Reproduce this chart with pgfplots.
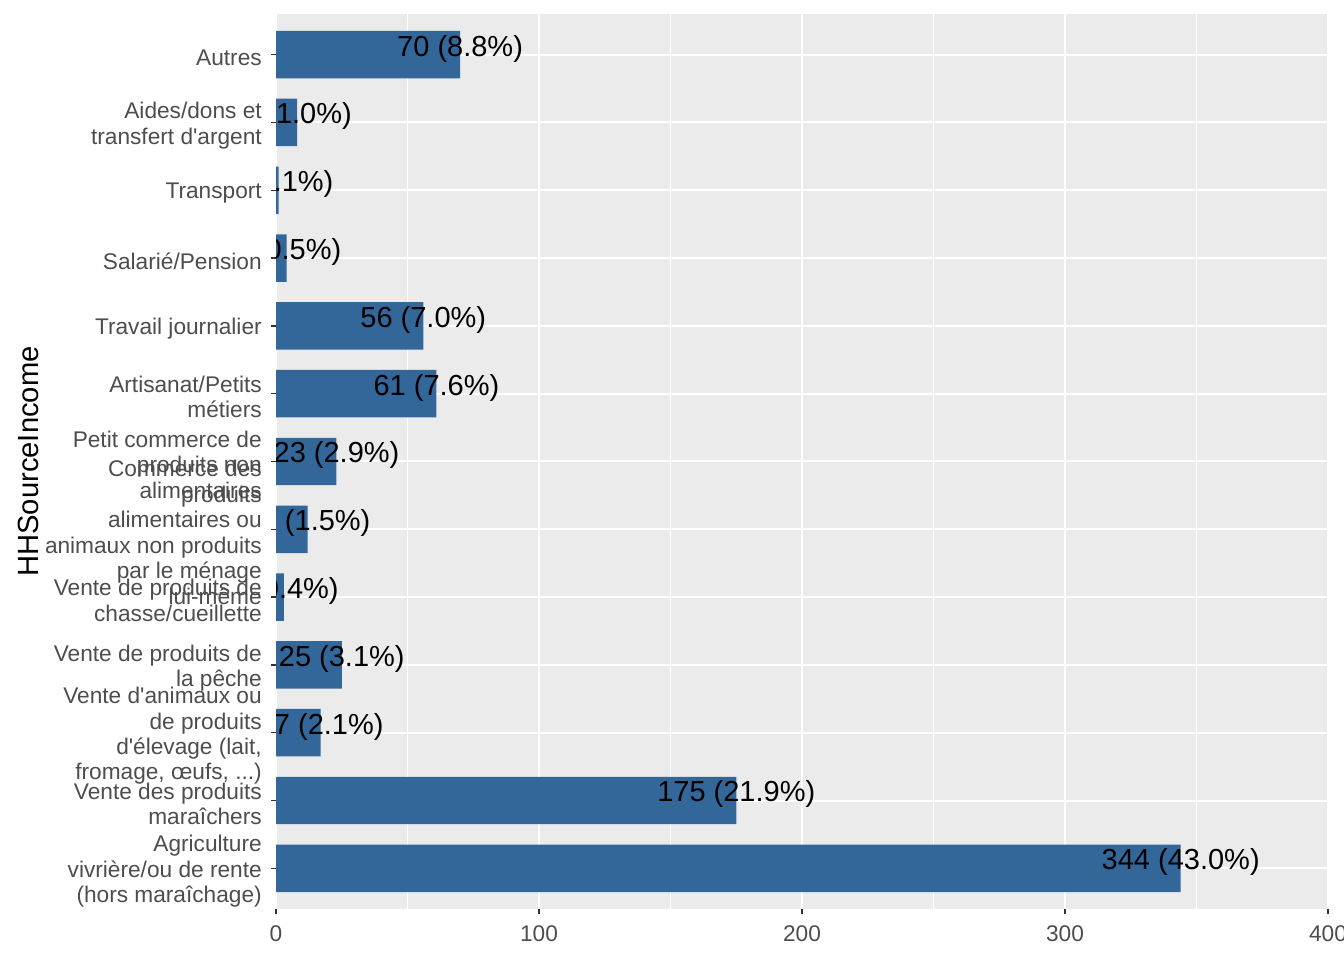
\documentclass[border=0pt]{standalone}
\usepackage{fontspec}
\setmainfont{Liberation Sans}
\usepackage{pgfplots}
\pgfplotsset{compat=1.18}
\definecolor{barblue}{HTML}{336699}
\definecolor{panelbg}{HTML}{EBEBEB}
\definecolor{ticklab}{HTML}{4D4D4D}
\definecolor{tickcol}{HTML}{333333}
\newcommand{\threedots}{.\kern0pt.\kern0pt.}
\begin{document}
\begin{tikzpicture}
\useasboundingbox (0,0) rectangle (1008pt,720pt);
\begin{axis}[
  at={(207pt,38.25pt)}, anchor=south west,
  scale only axis, width=789pt, height=671.25pt,
  xmin=0, xmax=400, ymin=0.4, ymax=13.6,
  xbar, bar width=0.7, bar shift=0pt,
  clip marker paths=true,
  axis background/.style={fill=panelbg},
  axis line style={draw=none},
  xtick={0,100,200,300,400},
  minor xtick={50,150,250,350},
  ytick={1,2,3,4,5,6,7,8,9,10,11,12,13},
  yticklabels={
    {Agriculture\\vivrière/ou de rente\\(hors maraîchage)},
    {Vente des produits\\maraîchers},
    {Vente d\textquotesingle animaux ou\\de produits\\d\textquotesingle élevage (lait,\\fromage, œufs, \threedots)},
    {Vente de produits de\\la pêche},
    {Vente de produits de\\chasse/cueillette},
    {Commerce des\\produits\\alimentaires ou\\animaux non produits\\par le ménage\\lui-même},
    {Petit commerce de\\produits non\\alimentaires},
    {Artisanat/Petits\\métiers},
    {Travail journalier},
    {Salarié/Pension},
    {Transport},
    {Aides/dons et\\transfert d\textquotesingle argent},
    {Autres}
  },
  tick pos=left, tick align=outside,
  major tick length=4pt, minor tick length=0pt,
  tick style={tickcol, line width=1.1pt},
  xmajorgrids, xminorgrids, ymajorgrids,
  major grid style={white, line width=1.5pt},
  minor grid style={white, line width=0.75pt},
  /pgf/number format/assume math mode=true,
  yticklabel style={font=\fontsize{17}{19.1}\selectfont, text=ticklab, align=right, anchor=east, inner sep=0pt, xshift=-6.5pt, yshift=-2.4pt},
  xticklabel style={font=\fontsize{17}{18.75}\selectfont, text=ticklab, anchor=north, inner sep=0pt, yshift=-8pt},
  ylabel={HHSourceIncome},
  ylabel style={at={(axis description cs:-0.2262,0.5)}, anchor=base, font=\fontsize{21.9}{26}\selectfont, text=black, inner sep=0pt},
]
\addplot[fill=barblue, draw=none, point meta=explicit symbolic,
  nodes near coords,
  every node near coord/.append style={anchor=base, font=\fontsize{21.75}{26}\selectfont, text=black, inner sep=0pt, yshift=-1pt, xshift=0pt}]
coordinates {
(344,1) [344 (43.0\%)]
(175,2) [175 (21.9\%)]
(17,3) [17 (2.1\%)]
(25,4) [25 (3.1\%)]
(3,5) [3 (0.4\%)]
(12,6) [12 (1.5\%)]
(23,7) [23 (2.9\%)]
(61,8) [61 (7.6\%)]
(56,9) [56 (7.0\%)]
(4,10) [4 (0.5\%)]
(1,11) [1 (0.1\%)]
(8,12) [8 (1.0\%)]
(70,13) [70 (8.8\%)]
};
\end{axis}
\end{tikzpicture}
\end{document}
